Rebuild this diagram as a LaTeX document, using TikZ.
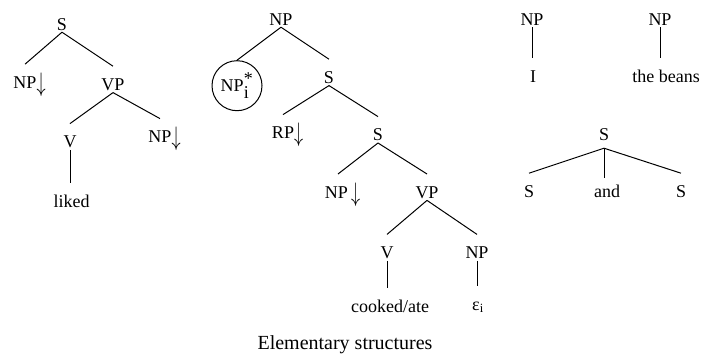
\documentclass[tikz,border=0pt]{standalone}
\usepackage{fontspec}
\setmainfont{Liberation Serif}
\usetikzlibrary{positioning}

% substitution site marker
\newcommand{\substarrow}{\rlap{\raisebox{-3pt}{\scalebox{1.05}[1.55]{$\downarrow$}}}}

\begin{document}
\begin{tikzpicture}[
  x=1pt, y=-1pt,
  cat/.style={inner sep=2pt, text height=22pt, text depth=0pt, font=\fontsize{18}{21}\selectfont},
  circ/.style={circle, draw, line width=1pt, minimum size=50pt, inner sep=0pt, font=\fontsize{18}{21}\selectfont},
  branch/.style={line width=1pt},
]
\useasboundingbox (0,0) rectangle (704,356);

%% --- Tree for "liked" ---
\node[cat, anchor=base] (s1) at (62,30) {S};
\node[cat, below=32pt of s1, xshift=-37pt]  (np1)   {NP\substarrow};
\node[cat, below=34pt of s1, xshift=51pt]   (vp1)   {VP};
\node[cat, below=31pt of vp1, xshift=-43pt] (v1)    {V};
\node[cat, below=26pt of vp1, xshift=47pt]  (np1b)  {NP\substarrow};
\node[cat, below=33pt of v1, xshift=1.5pt]  (liked) {liked};

\draw[branch] (s1.south)  -- (np1.north);
\draw[branch] (s1.south)  -- (vp1.north);
\draw[branch] (vp1.south) -- (v1.north);
\draw[branch] (vp1.south) -- (np1b.north);
\draw[branch] (v1.south)  -- (v1.south |- liked.north);

%% --- Relative clause tree ---
\node[cat, anchor=base] (np2) at (281,25) {NP};
\node[circ, below=33pt of np2, xshift=-44pt] (npi)    {NP$^{\textrm{*}}_{\textrm{i}}$};
\node[cat, below=32pt of np2, xshift=48pt]   (s2)     {S};
\node[cat, below=29pt of s2, xshift=-46pt]   (rp)     {RP\substarrow};
\node[cat, below=31pt of s2, xshift=49pt]    (s3)     {S};
\node[cat, below=31pt of s3, xshift=-40pt]   (np3)    {NP\,\substarrow};
\node[cat, below=31pt of s3, xshift=49pt]    (vp3)    {VP};
\node[cat, below=34pt of vp3, xshift=-40pt]  (v3)     {V};
\node[cat, below=34pt of vp3, xshift=50pt]   (np4)    {NP};
\node[cat, below=27pt of v3, xshift=3pt]     (cooked) {cooked/ate};
\node[cat, below=25pt of np4, xshift=-1pt]   (eps)    {ε\rlap{\textsubscript{i}}};

\draw[branch] (np2.south) -- (npi.north);
\draw[branch] (np2.south) -- (s2.north);
\draw[branch] (s2.south)  -- (rp.north);
\draw[branch] (s2.south)  -- (s3.north);
\draw[branch] (s3.south)  -- (np3.north);
\draw[branch] (s3.south)  -- (vp3.north);
\draw[branch] (vp3.south) -- (v3.north);
\draw[branch] (vp3.south) -- (np4.north);
\draw[branch] (v3.south)  -- (v3.south |- cooked.north);
\draw[branch] (np4.south) -- (np4.south |- eps.north);

%% --- Noun phrases ---
\node[cat, anchor=base] (npI) at (532,25) {NP};
\node[cat, below=31pt of npI, xshift=1pt] (pron) {I};
\node[cat, anchor=base] (npB) at (660,25) {NP};
\node[cat, below=31pt of npB, xshift=6pt] (beans) {the beans};

\draw[branch] (npI.south) -- (npI.south |- pron.north);
\draw[branch] (npB.south) -- (npB.south |- beans.north);

%% --- Coordination ---
\node[cat, anchor=base] (s5) at (604,140) {S};
\node[cat, below=31pt of s5, xshift=-75pt] (sl)   {S};
\node[cat, below=31pt of s5, xshift=3pt]   (conj) {and};
\node[cat, below=31pt of s5, xshift=77pt]  (sr)   {S};

\draw[branch] ([yshift=-6pt]s5.south) -- (sl.north);
\draw[branch] ([yshift=-6pt]s5.south) -- ([yshift=-5pt]s5.south |- conj.north);
\draw[branch] ([yshift=-6pt]s5.south) -- (sr.north);

%% --- Caption ---
\node[anchor=base, font=\fontsize{20}{24}\selectfont] (caption) at (345,349) {Elementary structures};

\end{tikzpicture}
\end{document}
